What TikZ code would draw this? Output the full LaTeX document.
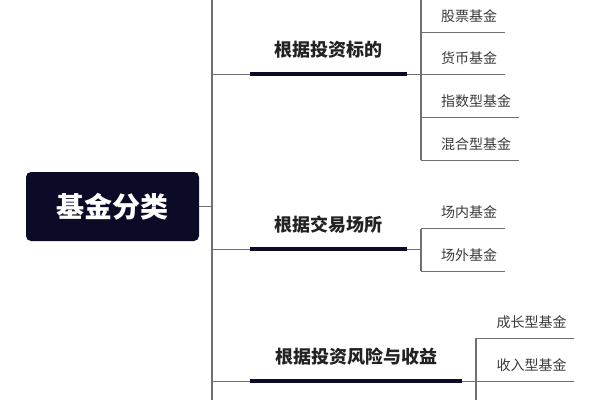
\documentclass[tikz,border=0pt]{standalone}
\usepackage{xcolor}
\usepackage{tikz}
\usepackage{fontspec}
\newfontfamily\cjk{Noto Sans CJK SC}
\definecolor{N0}{HTML}{0b0b28}
\definecolor{G0}{HTML}{707070}
\definecolor{T0}{HTML}{222222}
\definecolor{T1}{HTML}{3a3a3a}
\tikzset{%
root/.style={rectangle, rounded corners=5pt, fill=N0, text=white, minimum width=173pt, minimum height=69pt, inner sep=0pt, font=\cjk\bfseries\fontsize{28}{32}\selectfont},%
branch/.style={minimum height=48pt, inner sep=0pt, text=T0, font=\cjk\bfseries\fontsize{18}{21}\selectfont},%
leaf/.style={anchor=west, inner xsep=7.5pt, inner ysep=0pt, minimum height=32pt, text=T1, font=\cjk\fontsize{14}{17}\selectfont},%
twig/.style={draw=G0, line width=1.1pt},%
bar/.style={draw=N0, line width=4.5pt},%
}

\begin{document}
\begin{tikzpicture}[x=1pt, y=-1pt]%
\useasboundingbox (0,0) rectangle (600,400);%
\clip (0,0) rectangle (600,400);%
\node[root] (root) at (112.5,206.5) {基金分类};%
\coordinate (trunk) at (212,0);%
\coordinate (v1) at (421,0);%
\coordinate (v2) at (421,0);%
\coordinate (v3) at (476,0);%
\draw[twig] (trunk) -- (212,400);%
\draw[twig] (root.east) -- (trunk |- root.east);%
% branches
\node[branch, minimum width=157pt] (b1) at (328.5,50) {根据投资标的};%
\node[branch, minimum width=157pt] (b2) at (328.5,225) {根据交易场所};%
\node[branch, minimum width=212pt] (b3) at (356,357) {根据投资风险与收益};%
\foreach \b in {b1,b2,b3} {%
\draw[twig] (trunk |- \b.south) -- (\b.south west);%
\draw[bar] (\b.south west) -- (\b.south east);%
}%
% leaves
\node[leaf] (l1) at (433.5,16) {股票基金};%
\node[leaf] (l2) at (433.5,58.5) {货币基金};%
\node[leaf] (l3) at (433.5,101.5) {指数型基金};%
\node[leaf] (l4) at (433.5,144) {混合型基金};%
\node[leaf] (l5) at (433.5,212.5) {场内基金};%
\node[leaf] (l6) at (433.5,255) {场外基金};%
\node[leaf] (l7) at (489,322) {成长型基金};%
\node[leaf] (l8) at (489,365) {收入型基金};%
\draw[twig] (v1) -- (v1 |- l4.south);%
\draw[twig] (b1.south east) -- (v1 |- b1.south);%
\foreach \l in {l1,l2,l3,l4} {\draw[twig] (v1 |- \l.south) -- (\l.south east);}%
\draw[twig] (v2 |- l5.south) -- (v2 |- l6.south);%
\draw[twig] (b2.south east) -- (v2 |- b2.south);%
\foreach \l in {l5,l6} {\draw[twig] (v2 |- \l.south) -- (\l.south east);}%
\draw[twig] (v3 |- l7.south) -- (476,400);%
\draw[twig] (b3.south east) -- (v3 |- b3.south);%
\foreach \l in {l7,l8} {\draw[twig] (v3 |- \l.south) -- (\l.south east);}%
\end{tikzpicture}
\end{document}
